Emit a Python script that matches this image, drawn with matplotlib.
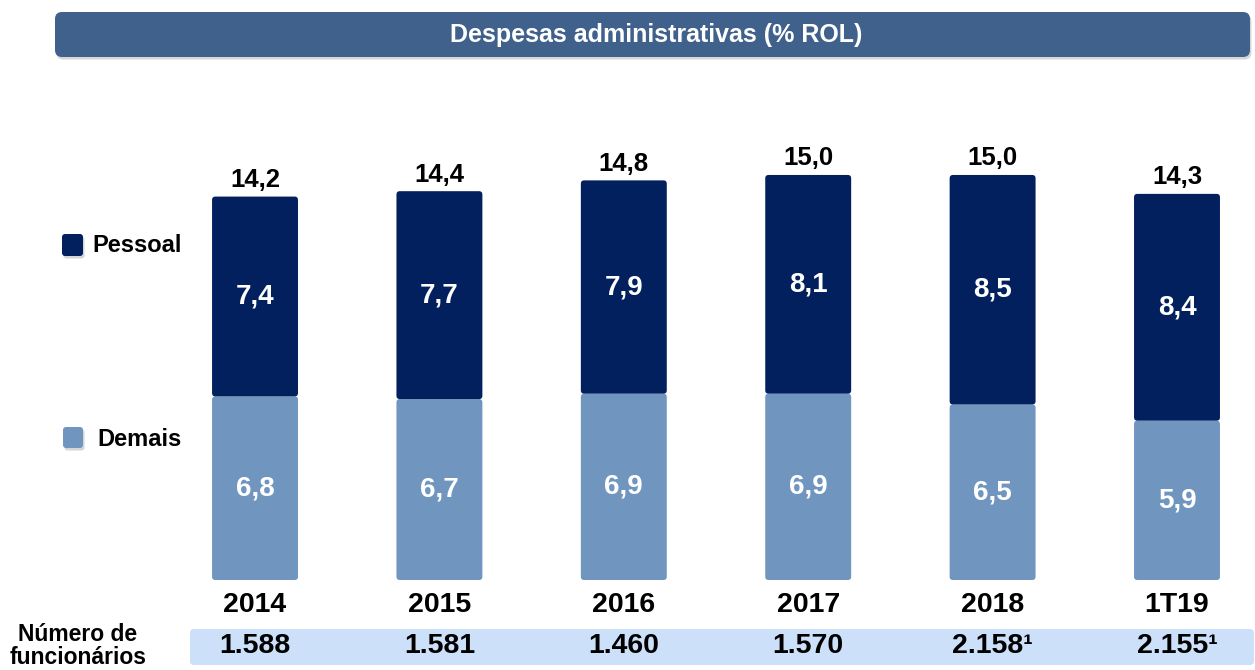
import numpy as np
import matplotlib
matplotlib.use("Agg")
import matplotlib.pyplot as plt
from matplotlib.patches import FancyBboxPatch

# dados
anos = ["2014", "2015", "2016", "2017", "2018", "1T19"]
demais = [6.8, 6.7, 6.9, 6.9, 6.5, 5.9]
pessoal = [7.4, 7.7, 7.9, 8.1, 8.5, 8.4]
totais = ["14,2", "14,4", "14,8", "15,0", "15,0", "14,3"]
funcionarios = ["1.588", "1.581", "1.460", "1.570", "2.158\u00b9", "2.155\u00b9"]

cor_pessoal = "#03205E"
cor_demais = "#7096C0"
cor_titulo = "#3F618C"
cor_faixa = "#CCE0FA"

plt.rcParams['font.family'] = ['Liberation Sans', 'DejaVu Sans']
plt.rcParams['font.weight'] = 'bold'

W, H = 1255, 670
fig = plt.figure(figsize=(W / 100, H / 100), dpi=100)
ax = fig.add_axes([0, 0, 1, 1])
ax.set_xlim(-1.383, 5.423)
ax.set_ylim(-3.333, 21.48)
ax.axis("off")

def caixa(x0, y0, x1, y1, cor, raio=6, sombra=False):
    # coordenadas em pixels (y para baixo)
    fx, fy = x0 / W, 1 - y1 / H
    fw, fh = (x1 - x0) / W, (y1 - y0) / H
    if sombra:
        s = FancyBboxPatch((fx + 1.5 / W, fy - 2.5 / H), fw, fh, transform=fig.transFigure,
                           boxstyle="round,pad=0,rounding_size=%f" % (raio / W),
                           mutation_aspect=W / H, fc="#999999", ec="none", alpha=0.4,
                           zorder=-2)
        fig.patches.append(s)
    p = FancyBboxPatch((fx, fy), fw, fh, transform=fig.transFigure,
                       boxstyle="round,pad=0,rounding_size=%f" % (raio / W),
                       mutation_aspect=W / H, fc=cor, ec="none", zorder=-1)
    fig.patches.append(p)

# titulo
caixa(55, 12, 1250, 57, cor_titulo, raio=7, sombra=True)
fig.text(656 / W, 1 - 35 / H, "Despesas administrativas (% ROL)", color="white",
         fontsize=18, fontweight="bold", ha="center", va="center")

# barras
x = np.arange(len(anos))
largura = 0.466
b1 = ax.bar(x, demais, largura, color=cor_demais)
b2 = ax.bar(x, pessoal, largura, bottom=demais, color=cor_pessoal)
asp = 184.4 / 27
for rect in list(b1) + list(b2):
    rect.set_visible(False)
    ax.add_patch(FancyBboxPatch(rect.get_xy(), rect.get_width(), rect.get_height(),
                                boxstyle="round,pad=0,rounding_size=0.018",
                                mutation_aspect=asp, fc=rect.get_facecolor(), ec="none"))

for i in range(len(anos)):
    ax.text(x[i], demais[i] / 2, ("%.1f" % demais[i]).replace(".", ","), color="white",
            fontsize=20, fontweight="bold", ha="center", va="center")
    ax.text(x[i], demais[i] + pessoal[i] / 2, ("%.1f" % pessoal[i]).replace(".", ","),
            color="white", fontsize=20, fontweight="bold", ha="center", va="center")
    ax.annotate(totais[i], (x[i], demais[i] + pessoal[i]), xytext=(0, 12),
                textcoords="offset points", fontsize=18.5, fontweight="bold",
                ha="center", va="center")
    ax.text(x[i], -0.93, anos[i], fontsize=20.5, fontweight="bold", ha="center", va="center")

# faixa de funcionarios
caixa(190, 629, 1254, 665, cor_faixa, raio=4)
for i in range(len(anos)):
    ax.text(x[i], -2.44, funcionarios[i], fontsize=20.5, fontweight="bold",
            ha="center", va="center")
fig.text(78 / W, 1 - 646 / H, "Número de\nfuncionários", fontsize=16.5, fontweight="bold",
         ha="center", va="center", linespacing=1.05)

# legenda
caixa(62, 234, 83, 256, cor_pessoal, raio=3, sombra=True)
fig.text(92 / W, 1 - 246 / H, "Pessoal", fontsize=17, fontweight="bold", va="center")
caixa(63, 427, 83, 448, cor_demais, raio=3, sombra=True)
fig.text(97 / W, 1 - 439 / H, "Demais", fontsize=17, fontweight="bold", va="center")

fig.savefig("out.png", dpi=100)
